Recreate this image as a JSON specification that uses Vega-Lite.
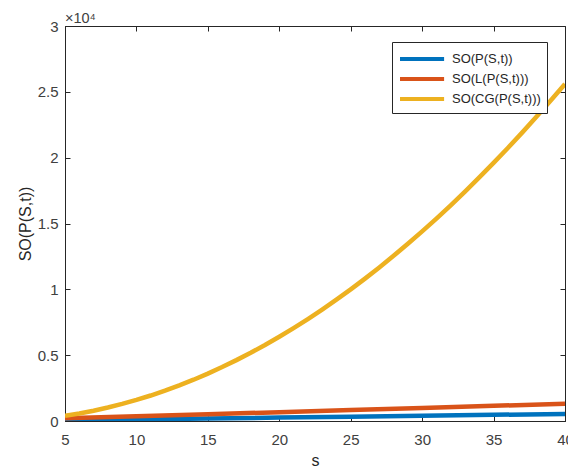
{
  "$schema": "https://vega.github.io/schema/vega-lite/v6.json",
  "width": 500,
  "height": 395,
  "autosize": {"type": "none"},
  "padding": {"left": 65, "top": 26, "right": 3, "bottom": 46},
  "background": "white",
  "title": {"text": "×10⁴", "anchor": "start", "frame": "group", "offset": 4, "dy": 11, "dx": 0, "fontSize": 14.5, "fontWeight": "normal", "color": "#404040", "font": "Liberation Sans"},
  "config": {
    "view": {"stroke": "#262626", "strokeWidth": 1},
    "font": "Liberation Sans",
    "title": {"fontSize": 14.5, "fontWeight": "normal"},
    "axis": {"grid": false, "domainColor": "#262626", "tickColor": "#262626", "labelColor": "#404040", "titleColor": "#262626", "labelFont": "Liberation Sans", "titleFont": "Liberation Sans", "labelFontSize": 15, "titleFontSize": 16, "titleFontWeight": "normal", "tickSize": -5}
  },
  "data": {"values": [
    {"s": 5, "series": "SO(P(S,t))", "v": 50},
    {"s": 10, "series": "SO(P(S,t))", "v": 120},
    {"s": 15, "series": "SO(P(S,t))", "v": 190},
    {"s": 20, "series": "SO(P(S,t))", "v": 260},
    {"s": 25, "series": "SO(P(S,t))", "v": 330},
    {"s": 30, "series": "SO(P(S,t))", "v": 400},
    {"s": 35, "series": "SO(P(S,t))", "v": 470},
    {"s": 40, "series": "SO(P(S,t))", "v": 540},
    {"s": 5, "series": "SO(L(P(S,t)))", "v": 200},
    {"s": 10, "series": "SO(L(P(S,t)))", "v": 360},
    {"s": 15, "series": "SO(L(P(S,t)))", "v": 510},
    {"s": 20, "series": "SO(L(P(S,t)))", "v": 670},
    {"s": 25, "series": "SO(L(P(S,t)))", "v": 830},
    {"s": 30, "series": "SO(L(P(S,t)))", "v": 990},
    {"s": 35, "series": "SO(L(P(S,t)))", "v": 1150},
    {"s": 40, "series": "SO(L(P(S,t)))", "v": 1310},
    {"s": 5, "series": "SO(CG(P(S,t)))", "v": 400},
    {"s": 6, "series": "SO(CG(P(S,t)))", "v": 576},
    {"s": 7, "series": "SO(CG(P(S,t)))", "v": 784},
    {"s": 8, "series": "SO(CG(P(S,t)))", "v": 1024},
    {"s": 9, "series": "SO(CG(P(S,t)))", "v": 1296},
    {"s": 10, "series": "SO(CG(P(S,t)))", "v": 1600},
    {"s": 11, "series": "SO(CG(P(S,t)))", "v": 1936},
    {"s": 12, "series": "SO(CG(P(S,t)))", "v": 2304},
    {"s": 13, "series": "SO(CG(P(S,t)))", "v": 2704},
    {"s": 14, "series": "SO(CG(P(S,t)))", "v": 3136},
    {"s": 15, "series": "SO(CG(P(S,t)))", "v": 3600},
    {"s": 16, "series": "SO(CG(P(S,t)))", "v": 4096},
    {"s": 17, "series": "SO(CG(P(S,t)))", "v": 4624},
    {"s": 18, "series": "SO(CG(P(S,t)))", "v": 5184},
    {"s": 19, "series": "SO(CG(P(S,t)))", "v": 5776},
    {"s": 20, "series": "SO(CG(P(S,t)))", "v": 6400},
    {"s": 21, "series": "SO(CG(P(S,t)))", "v": 7056},
    {"s": 22, "series": "SO(CG(P(S,t)))", "v": 7744},
    {"s": 23, "series": "SO(CG(P(S,t)))", "v": 8464},
    {"s": 24, "series": "SO(CG(P(S,t)))", "v": 9216},
    {"s": 25, "series": "SO(CG(P(S,t)))", "v": 10000},
    {"s": 26, "series": "SO(CG(P(S,t)))", "v": 10816},
    {"s": 27, "series": "SO(CG(P(S,t)))", "v": 11664},
    {"s": 28, "series": "SO(CG(P(S,t)))", "v": 12544},
    {"s": 29, "series": "SO(CG(P(S,t)))", "v": 13456},
    {"s": 30, "series": "SO(CG(P(S,t)))", "v": 14400},
    {"s": 31, "series": "SO(CG(P(S,t)))", "v": 15376},
    {"s": 32, "series": "SO(CG(P(S,t)))", "v": 16384},
    {"s": 33, "series": "SO(CG(P(S,t)))", "v": 17424},
    {"s": 34, "series": "SO(CG(P(S,t)))", "v": 18496},
    {"s": 35, "series": "SO(CG(P(S,t)))", "v": 19600},
    {"s": 36, "series": "SO(CG(P(S,t)))", "v": 20736},
    {"s": 37, "series": "SO(CG(P(S,t)))", "v": 21904},
    {"s": 38, "series": "SO(CG(P(S,t)))", "v": 23104},
    {"s": 39, "series": "SO(CG(P(S,t)))", "v": 24336},
    {"s": 40, "series": "SO(CG(P(S,t)))", "v": 25600}
  ]},
  "layer": [
    {
      "mark": {"type": "line", "strokeWidth": 4.5, "clip": true},
      "encoding": {
        "x": {"field": "s", "type": "quantitative", "scale": {"domain": [5, 40], "nice": false, "zero": false},
          "axis": {"title": "s", "values": [5, 10, 15, 20, 25, 30, 35, 40], "labelPadding": 16, "titlePadding": 5, "labelFlush": false}},
        "y": {"field": "v", "type": "quantitative", "scale": {"domain": [0, 30000], "nice": false},
          "axis": {"title": "SO(P(S,t))", "values": [0, 5000, 10000, 15000, 20000, 25000, 30000], "labelExpr": "datum.value / 10000", "labelPadding": 12, "titlePadding": 4}},
        "color": {"field": "series", "type": "nominal",
          "scale": {"domain": ["SO(P(S,t))", "SO(L(P(S,t)))", "SO(CG(P(S,t)))"], "range": ["#0072BD", "#D95319", "#EDB120"]},
          "legend": {"title": null, "orient": "none", "legendX": 327, "legendY": 16, "symbolType": "M-1,0H3.9", "symbolStrokeWidth": 4, "symbolSize": 324, "labelFontSize": 13, "labelColor": "#262626", "labelFont": "Liberation Sans", "labelOffset": 32, "strokeColor": "#262626", "fillColor": "white", "padding": 6, "rowPadding": 1, "labelLimit": 200}}
      }
    },
    {
      "mark": {"type": "line", "opacity": 0},
      "encoding": {
        "x": {"field": "s", "type": "quantitative", "axis": {"orient": "top", "labels": false, "title": null, "domain": false, "values": [5, 10, 15, 20, 25, 30, 35, 40]}},
        "y": {"field": "v", "type": "quantitative", "axis": {"orient": "right", "labels": false, "title": null, "domain": false, "values": [0, 5000, 10000, 15000, 20000, 25000, 30000]}},
        "detail": {"field": "series"}
      }
    }
  ],
  "resolve": {"axis": {"x": "independent", "y": "independent"}}
}
